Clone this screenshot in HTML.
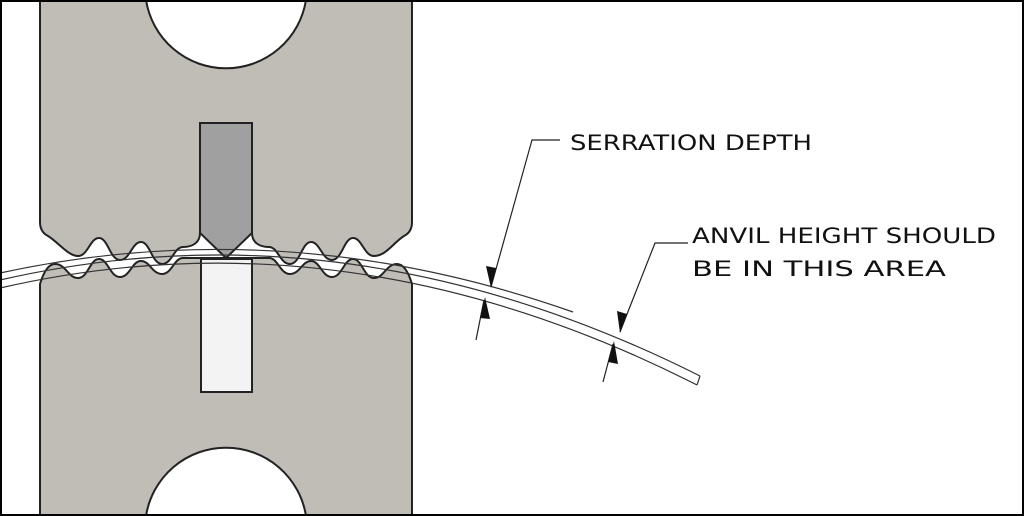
<!DOCTYPE html>
<html><head><style>
html,body{margin:0;padding:0;background:#fff;}
svg{display:block;}
text{font-family:"DejaVu Sans","Liberation Sans",sans-serif;font-size:21px;fill:#111;}
</style></head><body>
<svg width="1024" height="516" viewBox="0 0 1024 516" xmlns="http://www.w3.org/2000/svg">
<rect x="0" y="0" width="1024" height="516" fill="#fff"/>
<!-- upper block -->
<path d="M40,0 L146,0 A81,81 0 0 0 306,0 L412,0 L412,222 Q412,232 404,236
C394,242 386,256 374,256 C364,256 362,238 353,238 C344,238 342,260 332,260 C322,260 320,242 311,242 C302,242 300,264 290,264 C280,264 278,247 269,247 C260,247 252,243 252,233
L200,233 C200,243 192,247 183,247 C174,247 172,264 162,264 C152,264 150,242 141,242 C132,242 130,260 120,260 C110,260 108,238 99,238 C90,238 88,256 78,256 C68,256 58,242 48,236 Q40,232 40,222 Z"
 fill="#c0bcb6" stroke="#222" stroke-width="2"/>
<!-- lower block -->
<path d="M40,516 L40,284 Q46,264 55,264 C66,264 68,278 78,278 C88,278 90,259 99,259 C108,259 110,277 120,277 C130,277 132,261 141,261 C150,261 152,274 162,274 C172,274 174,258 183,258 L200,258 L252,258 L269,258 C278,258 280,274 290,274 C300,274 302,261 311,261 C320,261 322,277 332,277 C342,277 344,259 353,259 C362,259 364,278 374,278 C384,278 386,264 397,264 Q406,264 412,284 L412,516 L306,516 A81,81 0 0 0 146,516 Z"
 fill="#c0bcb6" stroke="#222" stroke-width="2"/>
<!-- upper slot -->
<path d="M200,123 L252,123 L252,233 L226,258 L200,233 Z" fill="#a0a0a0" stroke="#222" stroke-width="2"/>
<!-- lower slot -->
<rect x="201" y="259" width="51" height="133" fill="#f3f3f3" stroke="#222" stroke-width="2"/>
<!-- strip -->
<path d="M0,273 Q286,211 573,312" fill="none" stroke="#333" stroke-width="1.2"/>
<path d="M0,280 Q350,200 700,376" fill="none" stroke="#333" stroke-width="1.2"/>
<path d="M0,288 Q349,208 697,385" fill="none" stroke="#333" stroke-width="1.2"/>
<path d="M700,376 L697,385" stroke="#333" stroke-width="1.2"/>
<!-- leader 1 -->
<path d="M491,287 L532,140 L560,140" fill="none" stroke="#222" stroke-width="1.2"/>
<polygon points="491,288 486,266 496,268" fill="#111"/>
<path d="M476,340 L484,300" stroke="#222" stroke-width="1.2"/>
<polygon points="485,297 480,318 490,319" fill="#111"/>
<text x="570" y="150" textLength="242" lengthAdjust="spacingAndGlyphs">SERRATION DEPTH</text>
<!-- leader 2 -->
<path d="M620,332 L655,243 L688,243" fill="none" stroke="#222" stroke-width="1.2"/>
<polygon points="620,333 617,311 627,314" fill="#111"/>
<path d="M603,382 L613,344" stroke="#222" stroke-width="1.2"/>
<polygon points="614,341 608,362 618,364" fill="#111"/>
<text x="692" y="243" textLength="304" lengthAdjust="spacingAndGlyphs">ANVIL HEIGHT SHOULD</text>
<text x="692" y="276" textLength="254" lengthAdjust="spacingAndGlyphs">BE IN THIS AREA</text>
<rect x="1" y="1" width="1022" height="514" fill="none" stroke="#000" stroke-width="2"/>
</svg>
</body></html>
